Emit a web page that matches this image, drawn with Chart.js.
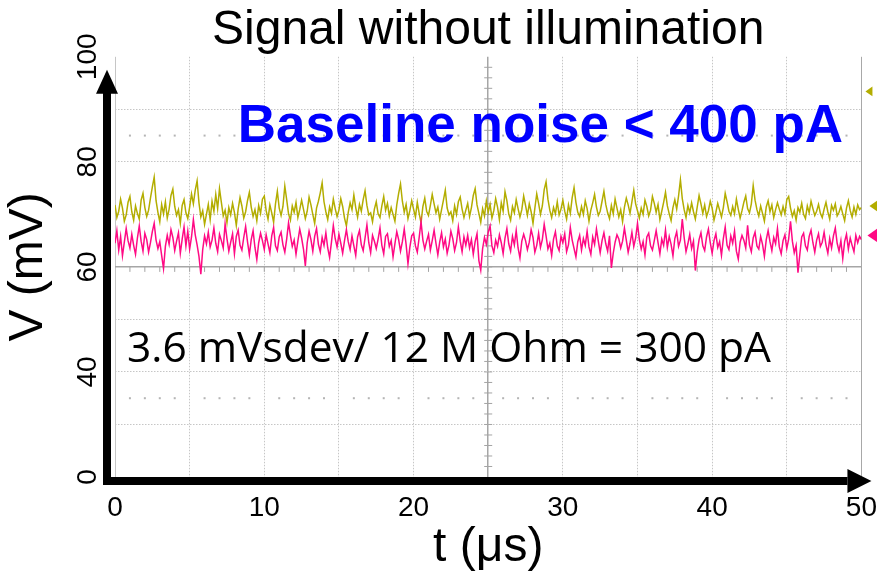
<!DOCTYPE html>
<html>
<head>
<meta charset="utf-8">
<title>Signal without illumination</title>
<script src="https://cdn.jsdelivr.net/npm/chart.js@4.4.1/dist/chart.umd.min.js"></script>
<style>
body { margin: 0; background: #fff; }
#kutu { width: 877px; height: 577px; }
</style>
</head>
<body>
<div id="kutu"><canvas id="grafik"></canvas></div>
<script>
// time between samples, in µs
var sampleStep = 0.125;

// upper (yellow) trace, mV
var yellowTrace = [
    71.8, 69.4, 70.6, 72.9, 71.2, 68.7, 69.9, 72.3, 73.4, 70.5,
    68.9, 71.6, 70.2, 69.1, 72.7, 74.0, 71.3, 69.6, 70.8, 73.1,
    75.2, 77.1, 72.6, 70.4, 68.6, 71.9, 70.1, 72.4, 69.3, 71.0,
    73.6, 74.8, 71.5, 69.8, 70.9, 68.3, 71.7, 72.8, 70.3, 69.2,
    71.4, 73.9, 72.0, 74.6, 76.4, 72.2, 69.5, 70.7, 68.1, 70.0,
    71.9, 69.0, 72.5, 70.6, 73.8, 71.1, 74.9, 72.3, 69.7, 70.8,
    68.4, 71.3, 69.9, 72.1, 70.4, 67.9, 71.0, 73.2, 71.6, 69.3,
    70.5, 72.6, 74.2, 71.4, 69.6, 70.9, 68.8, 71.7, 70.2, 72.9,
    73.5, 70.7, 69.1, 71.8, 70.3, 68.5, 72.0, 74.4, 71.2, 69.8,
    71.5, 75.4, 72.8, 70.1, 68.9, 71.6, 70.4, 72.3, 69.4, 70.9,
    72.7, 71.0, 69.2, 70.6, 73.3, 71.8, 70.0, 68.3, 71.2, 72.5,
    74.1, 76.0, 72.4, 70.5, 69.0, 71.4, 70.2, 72.9, 71.1, 69.6,
    70.8, 73.0, 71.5, 69.3, 67.8, 70.4, 72.2, 70.9, 73.7, 71.3,
    69.5, 71.9, 70.6, 72.8, 74.5, 71.7, 69.9, 70.3, 68.6, 71.0,
    72.4, 70.1, 69.4, 71.6, 73.4, 70.8, 72.1, 69.7, 71.3, 70.0,
    68.7, 71.8, 74.0, 75.8, 72.5, 70.4, 71.9, 69.2, 70.7, 72.6,
    71.0, 69.5, 72.3, 70.2, 68.4, 71.5, 73.1, 70.6, 69.8, 71.7,
    73.8, 72.0, 70.3, 71.4, 69.1, 70.9, 72.7, 74.6, 71.2, 69.9,
    70.5, 68.8, 71.6, 70.0, 72.4, 73.3, 71.0, 69.4, 70.8, 72.1,
    69.6, 71.3, 73.6, 74.9, 71.8, 70.2, 68.5, 71.1, 69.7, 72.5,
    70.4, 71.9, 69.3, 70.7, 73.0, 71.4, 69.0, 72.2, 70.6, 74.3,
    72.6, 70.1, 68.9, 71.5, 70.3, 72.8, 71.1, 69.5, 70.9, 73.5,
    71.7, 69.8, 72.0, 70.5, 68.3, 71.2, 73.9, 72.1, 70.0, 71.6,
    74.7, 76.2, 72.9, 70.8, 69.4, 71.3, 70.1, 72.4, 69.9, 71.0,
    72.7, 70.6, 69.1, 71.8, 70.2, 73.2, 75.1, 72.3, 70.4, 69.6,
    71.5, 70.0, 72.6, 71.1, 68.7, 70.8, 72.2, 73.8, 71.4, 69.8,
    70.6, 72.5, 74.4, 71.9, 70.3, 69.2, 71.7, 70.1, 72.9, 71.2,
    69.5, 70.9, 68.6, 71.4, 73.1, 71.8, 70.2, 72.4, 74.6, 72.0,
    70.7, 69.3, 71.2, 70.0, 72.7, 71.5, 69.7, 70.8, 73.4, 72.1,
    70.4, 71.9, 69.0, 70.6, 72.3, 74.2, 71.6, 70.1, 68.8, 71.3,
    72.8, 71.0, 73.5, 76.6, 73.0, 70.9, 69.4, 71.7, 70.3, 72.2,
    70.5, 69.1, 71.4, 73.6, 72.0, 70.2, 71.8, 69.6, 70.7, 72.5,
    71.2, 68.9, 70.4, 72.1, 70.8, 69.5, 71.3, 74.0, 72.4, 70.6,
    69.8, 71.5, 70.1, 72.9, 71.0, 69.3, 70.7, 72.3, 73.5, 71.1,
    70.3, 72.0, 75.5, 72.7, 70.9, 69.7, 71.6, 70.2, 68.7, 71.4,
    72.6, 70.5, 71.8, 69.4, 70.9, 72.2, 71.0, 69.9, 71.5, 70.1,
    72.8, 73.4, 71.2, 69.6, 70.7, 68.9, 71.3, 70.4, 72.1, 70.0,
    69.2, 71.6, 70.3, 72.5, 71.1, 69.8, 70.6, 71.9, 70.2, 69.4,
    71.0, 72.3, 70.5, 69.1, 71.7, 70.8, 72.0, 69.7, 70.4, 71.5,
    70.1, 68.8, 71.2, 72.6, 70.7, 69.5, 71.4, 70.0, 71.8, 70.9,
    71.3
];

// lower (pink) trace, mV
var pinkTrace = [
    64.5, 66.9, 63.2, 65.8, 62.1, 64.7, 67.3, 65.0, 63.6, 66.2,
    64.1, 62.4, 65.5, 67.8, 64.9, 63.0, 66.4, 65.2, 62.8, 64.6,
    66.7, 68.3, 65.1, 63.5, 64.8, 62.2, 59.7, 63.9, 66.0, 64.3,
    67.1, 65.6, 63.1, 64.9, 66.5, 62.6, 65.3, 67.6, 64.0, 66.8,
    63.4, 65.7, 69.0, 66.1, 64.2, 62.0, 58.6, 63.3, 65.9, 64.4,
    66.6, 63.8, 65.1, 67.4, 64.5, 62.9, 66.2, 65.0, 63.6, 68.2,
    65.4, 63.0, 64.7, 66.3, 62.5, 65.8, 67.0, 64.1, 63.2, 65.6,
    67.7, 64.8, 62.3, 65.2, 66.9, 63.7, 61.4, 64.6, 66.4, 65.0,
    63.3, 66.1, 64.4, 62.7, 65.9, 67.5, 64.0, 63.1, 65.7, 66.6,
    64.2, 62.8, 65.3, 68.4, 66.0, 63.9, 65.1, 62.4, 64.9, 67.2,
    65.5, 63.4, 60.2, 64.6, 66.8, 65.2, 63.0, 65.8, 67.3, 64.3,
    62.9, 65.6, 64.1, 66.5, 63.6, 61.8, 64.7, 67.9, 65.4, 63.8,
    66.2, 64.5, 62.6, 65.0, 67.1, 64.8, 63.3, 65.9, 64.0, 62.2,
    65.7, 66.9, 64.2, 63.1, 65.5, 68.0, 64.6, 62.7, 66.0, 64.9,
    63.5, 65.3, 67.4, 64.1, 62.5, 65.8, 66.3, 63.9, 65.0, 61.9,
    64.4, 66.7, 65.2, 63.0, 64.8, 67.2, 64.3, 60.6, 63.7, 65.9,
    66.4, 64.0, 62.8, 65.6, 68.6, 65.1, 63.4, 64.9, 66.2, 63.2,
    65.0, 67.0, 64.5, 62.3, 64.7, 66.5, 63.8, 65.3, 62.6, 64.2,
    66.8, 65.4, 63.1, 64.6, 67.6, 64.9, 62.9, 65.7, 64.1, 66.0,
    63.6, 65.2, 62.4, 64.8, 66.3, 61.2, 59.4, 63.5, 65.6, 64.3,
    66.6, 67.8, 64.0, 62.7, 65.1, 63.9, 66.1, 64.6, 62.5, 65.5,
    67.3, 64.4, 63.0, 65.8, 64.2, 66.9, 63.6, 61.7, 64.9, 66.2,
    65.0, 63.3, 64.7, 67.1, 65.6, 62.8, 64.1, 66.4, 63.7, 65.2,
    68.1, 65.9, 63.4, 64.5, 62.2, 65.3, 66.7, 64.0, 63.1, 65.8,
    64.6, 66.3, 62.9, 64.2, 67.5, 65.1, 63.5, 61.9, 64.8, 66.0,
    63.2, 65.4, 64.1, 66.8, 63.8, 62.4, 65.7, 64.3, 67.2, 64.9,
    62.7, 65.0, 66.5, 64.4, 63.0, 65.9, 59.8, 62.6, 64.7, 66.1,
    65.3, 63.6, 64.9, 67.4, 65.1, 62.8, 64.5, 66.6, 63.9, 65.5,
    68.3, 65.2, 63.4, 64.8, 62.3, 65.7, 66.4, 64.0, 63.2, 65.0,
    66.9, 64.6, 62.5, 65.3, 64.1, 67.0, 63.7, 65.8, 64.3, 62.1,
    65.4, 66.7, 63.9, 65.1, 69.1, 65.6, 62.9, 64.4, 66.2, 63.5,
    64.9, 59.3, 62.8, 65.2, 66.5, 64.0, 63.1, 65.7, 67.2, 64.6,
    62.6, 65.0, 66.3, 63.7, 64.8, 62.2, 65.4, 67.6, 64.1, 63.3,
    65.9, 64.5, 66.8, 63.0, 61.5, 64.7, 66.0, 65.1, 63.6, 67.9,
    64.2, 62.9, 65.5, 66.6, 64.0, 63.4, 65.8, 64.3, 62.0, 65.2,
    66.9, 64.8, 63.1, 65.6, 64.4, 67.3, 63.8, 62.5, 65.0, 66.1,
    63.5, 65.3, 68.7, 64.9, 62.7, 64.1, 58.9, 62.4, 65.7, 66.4,
    64.0, 63.2, 65.8, 67.0, 64.6, 62.8, 65.1, 66.3, 63.9, 64.7,
    66.6, 64.2, 62.6, 65.4, 63.6, 65.9, 67.4, 64.5, 63.0, 65.0,
    61.6, 64.8, 66.2, 63.4, 65.5, 64.1, 62.9, 66.0, 64.6, 65.8,
    65.2
];

var xTickLabels = [0, 10, 20, 30, 40, 50];
var yTickValues = [20, 40, 60, 80, 100];
var yTickLabels = ['0', '40', '60', '80', '100'];

// levels of the scope's channel markers on the right edge, mV
var yellowMarkers = [93.4, 71.6];
var pinkMarkers = [66.0];

var noteBlue = 'Baseline noise < 400 pA';
var noteBlack = '3.6 mVsdev/ 12 M Ohm = 300 pA';

var SARI = '#b3ad00';
var PEMBE = '#ff0a84';

function noktalar(dizi)
{
    var sonuc = [];
    for (var i = 0; i < dizi.length; i++)
        sonuc.push({ x: Math.round(i * sampleStep * 1000) / 1000, y: dizi[i] });
    return sonuc;
}

function ucgen(ctx, x, y, boy, renk)
{
    ctx.fillStyle = renk;
    ctx.beginPath();
    ctx.moveTo(x, y);
    ctx.lineTo(x + boy, y - boy * 0.7);
    ctx.lineTo(x + boy, y + boy * 0.7);
    ctx.closePath();
    ctx.fill();
}

var sahne = {
    id: 'sahne',
    beforeDatasetsDraw: function (chart)
    {
        var ctx = chart.ctx;
        var xs = chart.scales.x, ys = chart.scales.y;
        var y0 = ys.getPixelForValue(60), x0 = xs.getPixelForValue(25);
        ctx.save();
        ctx.strokeStyle = '#a4a4a4';
        ctx.lineWidth = 1;
        ctx.beginPath();
        for (var t = 1; t < 50; t++) {
            var px = xs.getPixelForValue(t);
            ctx.moveTo(px, y0);
            ctx.lineTo(px, y0 + 5);
        }
        for (var v = 22; v < 100; v += 2) {
            var py = ys.getPixelForValue(v);
            ctx.moveTo(x0 - 4, py);
            ctx.lineTo(x0 + 4, py);
        }
        ctx.stroke();
        // the faint dotted rows of the scope screen
        ctx.fillStyle = '#b4b4b4';
        [85, 35].forEach(function (v) {
            var py = ys.getPixelForValue(v);
            for (var t = 1; t < 50; t++) {
                if (t % 5 === 0) continue;
                ctx.fillRect(xs.getPixelForValue(t) - 1, py - 1, 2, 2);
            }
        });
        ctx.restore();
    },
    afterDraw: function (chart)
    {
        var ctx = chart.ctx;
        var a = chart.chartArea;
        var xs = chart.scales.x, ys = chart.scales.y;
        ctx.save();

        // axis arrows
        ctx.fillStyle = '#000';
        ctx.fillRect(a.left - 12, a.top + 34, 8, a.bottom - a.top - 26);
        ctx.beginPath();
        ctx.moveTo(a.left - 8, a.top + 13);
        ctx.lineTo(a.left - 19, a.top + 37);
        ctx.lineTo(a.left + 3, a.top + 37);
        ctx.closePath();
        ctx.fill();
        ctx.fillRect(a.left - 12, a.bottom, a.right - a.left - 2, 8);
        ctx.beginPath();
        ctx.moveTo(a.right + 10, a.bottom + 4);
        ctx.lineTo(a.right - 14, a.bottom - 8);
        ctx.lineTo(a.right - 14, a.bottom + 16);
        ctx.closePath();
        ctx.fill();

        // rotated y tick labels
        ctx.font = '28px "Liberation Sans", Arial, sans-serif';
        ctx.textAlign = 'center';
        ctx.textBaseline = 'middle';
        for (var i = 0; i < yTickValues.length; i++) {
            ctx.save();
            ctx.translate(a.left - 27, ys.getPixelForValue(yTickValues[i]));
            ctx.rotate(-Math.PI / 2);
            ctx.fillText(yTickLabels[i], 0, 0);
            ctx.restore();
        }

        // notes
        ctx.fillStyle = '#0000ff';
        ctx.font = 'bold 53px "Liberation Sans", Arial, sans-serif';
        ctx.textAlign = 'center';
        ctx.fillText(noteBlue, xs.getPixelForValue(28.5), ys.getPixelForValue(86.5));
        ctx.fillStyle = '#000';
        ctx.font = '42.5px "Open Sans", sans-serif';
        ctx.textAlign = 'left';
        ctx.fillText(noteBlack, xs.getPixelForValue(0.8), ys.getPixelForValue(44.2));

        // channel markers
        ucgen(ctx, a.right + 4, ys.getPixelForValue(yellowMarkers[0]), 7, SARI);
        ucgen(ctx, a.right + 8, ys.getPixelForValue(yellowMarkers[1]), 12, SARI);
        ucgen(ctx, a.right + 6, ys.getPixelForValue(pinkMarkers[0]), 11, PEMBE);
        ctx.restore();
    }
};

function cizgiRengi(v, orta)
{
    if (v === orta) return '#a6a6a6';
    return '#c6c6c6';
}

Chart.defaults.font.family = '"Liberation Sans", Arial, sans-serif';
Chart.defaults.color = '#000';

var grafik = new Chart(document.getElementById('grafik').getContext('2d'), {
    type: 'line',
    data: {
        datasets: [
            {
                label: 'pink',
                data: noktalar(pinkTrace),
                borderColor: PEMBE,
                borderWidth: 1.5,
                pointRadius: 0,
                tension: 0
            },
            {
                label: 'yellow',
                data: noktalar(yellowTrace),
                borderColor: SARI,
                borderWidth: 1.5,
                pointRadius: 0,
                tension: 0
            }
        ]
    },
    options: {
        responsive: true,
        maintainAspectRatio: false,
        animation: false,
        layout: { padding: { left: 0, right: 15, top: 0, bottom: 0 } },
        plugins: {
            legend: { display: false },
            tooltip: { enabled: false },
            title: {
                display: true,
                fullSize: false,
                text: 'Signal without illumination',
                color: '#000',
                font: { size: 48, weight: 'normal', lineHeight: 1.1 },
                padding: { top: 4, bottom: 0 }
            }
        },
        scales: {
            x: {
                type: 'linear',
                min: 0,
                max: 50,
                afterFit: function (s) { s.height = 100; },
                ticks: {
                    stepSize: 5,
                    padding: 0,
                    font: { size: 28 },
                    color: '#000',
                    maxRotation: 0,
                    callback: function (value) {
                        return xTickLabels.indexOf(value) >= 0 ? String(value) : '';
                    }
                },
                grid: {
                    drawTicks: true,
                    tickLength: 14,
                    tickColor: 'rgba(0,0,0,0)',
                    color: function (c) {
                        if (c.tick.value === 50) return '#a8a8a8';
                        return cizgiRengi(c.tick.value, 25);
                    },
                    lineWidth: function (c) { return c.tick.value === 25 ? 1.5 : 1; }
                },
                border: {
                    display: false,
                    dash: function (c) {
                        var v = c.tick.value;
                        return (v === 0 || v === 25 || v === 50) ? [] : [1.5, 1.5];
                    }
                },
                title: {
                    display: true,
                    text: 't (μs)',
                    font: { size: 48 },
                    color: '#000',
                    padding: 0
                }
            },
            y: {
                min: 20,
                max: 100,
                afterFit: function (s) { s.width = 115; },
                ticks: { stepSize: 10, display: false },
                grid: {
                    drawTicks: false,
                    color: function (c) {
                        if (c.tick.value === 100) return 'rgba(0,0,0,0)';
                        return cizgiRengi(c.tick.value, 60);
                    },
                    lineWidth: function (c) { return c.tick.value === 60 ? 1.5 : 1; }
                },
                border: {
                    display: false,
                    dash: function (c) { return c.tick.value === 60 ? [] : [1.5, 1.5]; }
                },
                title: {
                    display: true,
                    text: 'V (mV)',
                    font: { size: 48 },
                    color: '#000',
                    padding: 0
                }
            }
        }
    },
    plugins: [sahne]
});
</script>
</body>
</html>
